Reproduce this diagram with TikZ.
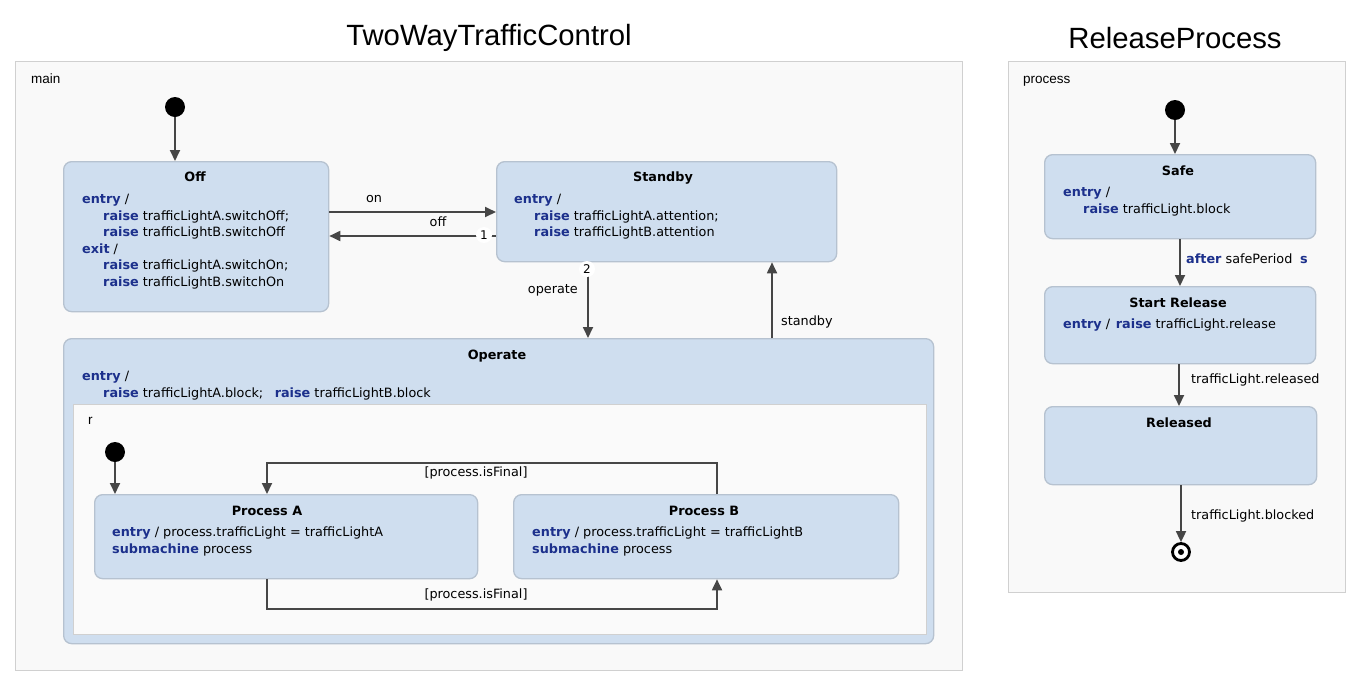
\documentclass[tikz,border=0pt]{standalone}
\usepackage{fontspec}
\setmainfont{DejaVu Sans}
\newfontfamily\titlefont{Liberation Sans}
\usetikzlibrary{arrows.meta,calc}
\definecolor{statefill}{RGB}{207,222,239}
\definecolor{stateborder}{RGB}{182,194,208}
\definecolor{framefill}{RGB}{249,249,249}
\definecolor{frameborder}{RGB}{208,208,208}
\definecolor{regionfill}{RGB}{250,250,250}
\definecolor{kwblue}{RGB}{28,48,140}
\definecolor{arrowgray}{RGB}{70,70,70}
\newcommand{\kw}[1]{{\color{kwblue}\bfseries #1}}
\tikzset{
  frame/.style={draw=frameborder, fill=framefill, line width=1.3pt, anchor=north west, inner sep=0pt},
  region/.style={draw=frameborder, fill=regionfill, line width=1.3pt, anchor=north west, inner sep=0pt},
  state/.style={draw=stateborder, fill=statefill, line width=1.3pt, rounded corners=8pt, anchor=north west, inner sep=0pt},
  tr/.style={draw=arrowgray, line width=1.8pt, -{Triangle[length=11pt,width=10pt]}},
  txt/.style={anchor=west, inner sep=0pt, text height=11pt, text depth=1.5pt, font=\fontsize{12.8}{15}\selectfont},
  ttl/.style={inner sep=0pt, text height=11pt, text depth=1.5pt, font=\fontsize{12.8}{15}\selectfont\bfseries},
  lbl/.style={inner sep=0pt, text height=11pt, text depth=1.5pt, font=\fontsize{12.8}{15}\selectfont},
  flbl/.style={anchor=west, inner sep=0pt, font=\titlefont\fontsize{13.5}{15}\selectfont},
  bigtitle/.style={inner sep=0pt, font=\titlefont\fontsize{29.3}{32}\selectfont},
  initdot/.style={circle, fill=black, minimum size=20pt, inner sep=0pt},
  finaldot/.style={circle, draw=black, line width=2.8pt, fill=white, minimum size=17pt, inner sep=0pt},
  badge/.style={circle, fill=white, inner sep=0pt, minimum size=16pt, font=\fontsize{12}{13}\selectfont},
}
\begin{document}
\begin{tikzpicture}[x=1pt,y=-1pt]
\useasboundingbox[fill=white] (0,0) rectangle (1359,689);

% titles
\node[bigtitle] (t1) at (489,38) {TwoWayTrafficControl};
\node[bigtitle] (t2) at (1175,38) {ReleaseProcess};

% frames
\node[frame, minimum width=947pt, minimum height=609pt] (mainframe) at (15,61) {};
\node[flbl] (mainlbl) at (31,79) {main};
\node[frame, minimum width=337pt, minimum height=531pt] (procframe) at (1008,61) {};
\node[flbl] (proclbl) at (1023,81) {process};

% ---------- main ----------
\node[initdot] (initmain) at (175,107) {};

\node[state, minimum width=265pt, minimum height=150pt] (off) at (63,161) {};
\node[ttl] (offt) at (195,177) {Off};
\node[txt] (off1) at (82,199) {\kw{entry} /};
\node[txt] (off2) at (103,216) {\kw{raise} trafficLightA.switchOff;};
\node[txt] (off3) at (103,232) {\kw{raise} trafficLightB.switchOff};
\node[txt] (off4) at (82,249) {\kw{exit} /};
\node[txt] (off5) at (103,265) {\kw{raise} trafficLightA.switchOn;};
\node[txt] (off6) at (103,282) {\kw{raise} trafficLightB.switchOn};

\node[state, minimum width=340pt, minimum height=100pt] (standby) at (496,161) {};
\node[ttl] (stbt) at (663,177) {Standby};
\node[txt] (stb1) at (514,199) {\kw{entry} /};
\node[txt] (stb2) at (534,216) {\kw{raise} trafficLightA.attention;};
\node[txt] (stb3) at (534,232) {\kw{raise} trafficLightB.attention};

\node[state, minimum width=870pt, minimum height=305pt] (operate) at (63,338) {};
\node[ttl] (opt) at (497,355) {Operate};
\node[txt] (op1) at (82,376) {\kw{entry} /};
\node[txt] (op2) at (103,393) {\kw{raise} trafficLightA.block;\hspace{0.9em}\kw{raise} trafficLightB.block};

\node[region, minimum width=853pt, minimum height=230pt] (rregion) at (73,404) {};
\node[flbl] (rlbl) at (88,421) {r};

\node[initdot] (initr) at (115,452) {};

\node[state, minimum width=383pt, minimum height=84pt] (procA) at (94,494) {};
\node[ttl] (pat) at (267,511) {Process A};
\node[txt] (pa1) at (112,532) {\kw{entry} / process.trafficLight = trafficLightA};
\node[txt] (pa2) at (112,549) {\kw{submachine} process};

\node[state, minimum width=385pt, minimum height=84pt] (procB) at (513,494) {};
\node[ttl] (pbt) at (704,511) {Process B};
\node[txt] (pb1) at (532,532) {\kw{entry} / process.trafficLight = trafficLightB};
\node[txt] (pb2) at (532,549) {\kw{submachine} process};

% main transitions
\draw[tr] (initmain) -- (initmain |- off.north);
\draw[tr] (off.east |- 0,212) -- (standby.west |- 0,212);
\node[lbl] (lon) at (374,198) {on};
\draw[tr] (standby.west |- 0,236) -- (off.east |- 0,236);
\node[lbl] (loff) at (438,222) {off};
\node[badge] (b1) at (484,235) {1};
\draw[tr] (standby.south -| 588,0) -- (operate.north -| 588,0);
\node[badge] (b2) at (587,269) {2};
\node[lbl, anchor=east] (lop) at (578,289) {operate};
\draw[tr] (operate.north -| 772,0) -- (standby.south -| 772,0);
\node[lbl, anchor=west] (lstb) at (781,321) {standby};

\draw[tr] (initr) -- (initr |- procA.north);
\draw[tr] (procB.north -| 717,0) -- ++(0,-31) -| (procA.north -| 267,0);
\node[lbl] (lba) at (476,472) {[process.isFinal]};
\draw[tr] (procA.south -| 267,0) -- ++(0,30) -| (procB.south -| 717,0);
\node[lbl] (lab) at (476,594) {[process.isFinal]};

% ---------- release process ----------
\node[initdot] (initrel) at (1175,110) {};

\node[state, minimum width=271pt, minimum height=84pt] (safe) at (1044,154) {};
\node[ttl] (sft) at (1178,171) {Safe};
\node[txt] (sf1) at (1063,192) {\kw{entry} /};
\node[txt] (sf2) at (1083,209) {\kw{raise} trafficLight.block};

\node[state, minimum width=271pt, minimum height=77pt] (startrel) at (1044,286) {};
\node[ttl] (srt) at (1178,303) {Start Release};
\node[txt] (sr1) at (1063,324) {\kw{entry} /\hspace{0.45em}\kw{raise} trafficLight.release};

\node[state, minimum width=272pt, minimum height=78pt] (released) at (1044,406) {};
\node[ttl] (rdt) at (1179,423) {Released};

\node[finaldot] (final) at (1181,552) {};
\fill[black] (final) circle (3pt);

\draw[tr] (initrel) -- (initrel |- safe.north);
\draw[tr] (safe.south -| 1180,0) -- (startrel.north -| 1180,0);
\node[lbl, anchor=west] (lafter) at (1186,259) {\kw{after} safePeriod\hspace{0.6em}\kw{s}};
\draw[tr] (startrel.south -| 1179,0) -- (released.north -| 1179,0);
\node[lbl, anchor=west] (lrel) at (1191,379) {trafficLight.released};
\draw[tr] (released.south -| final) -- (final);
\node[lbl, anchor=west] (lblk) at (1191,515) {trafficLight.blocked};
\end{tikzpicture}
\end{document}
